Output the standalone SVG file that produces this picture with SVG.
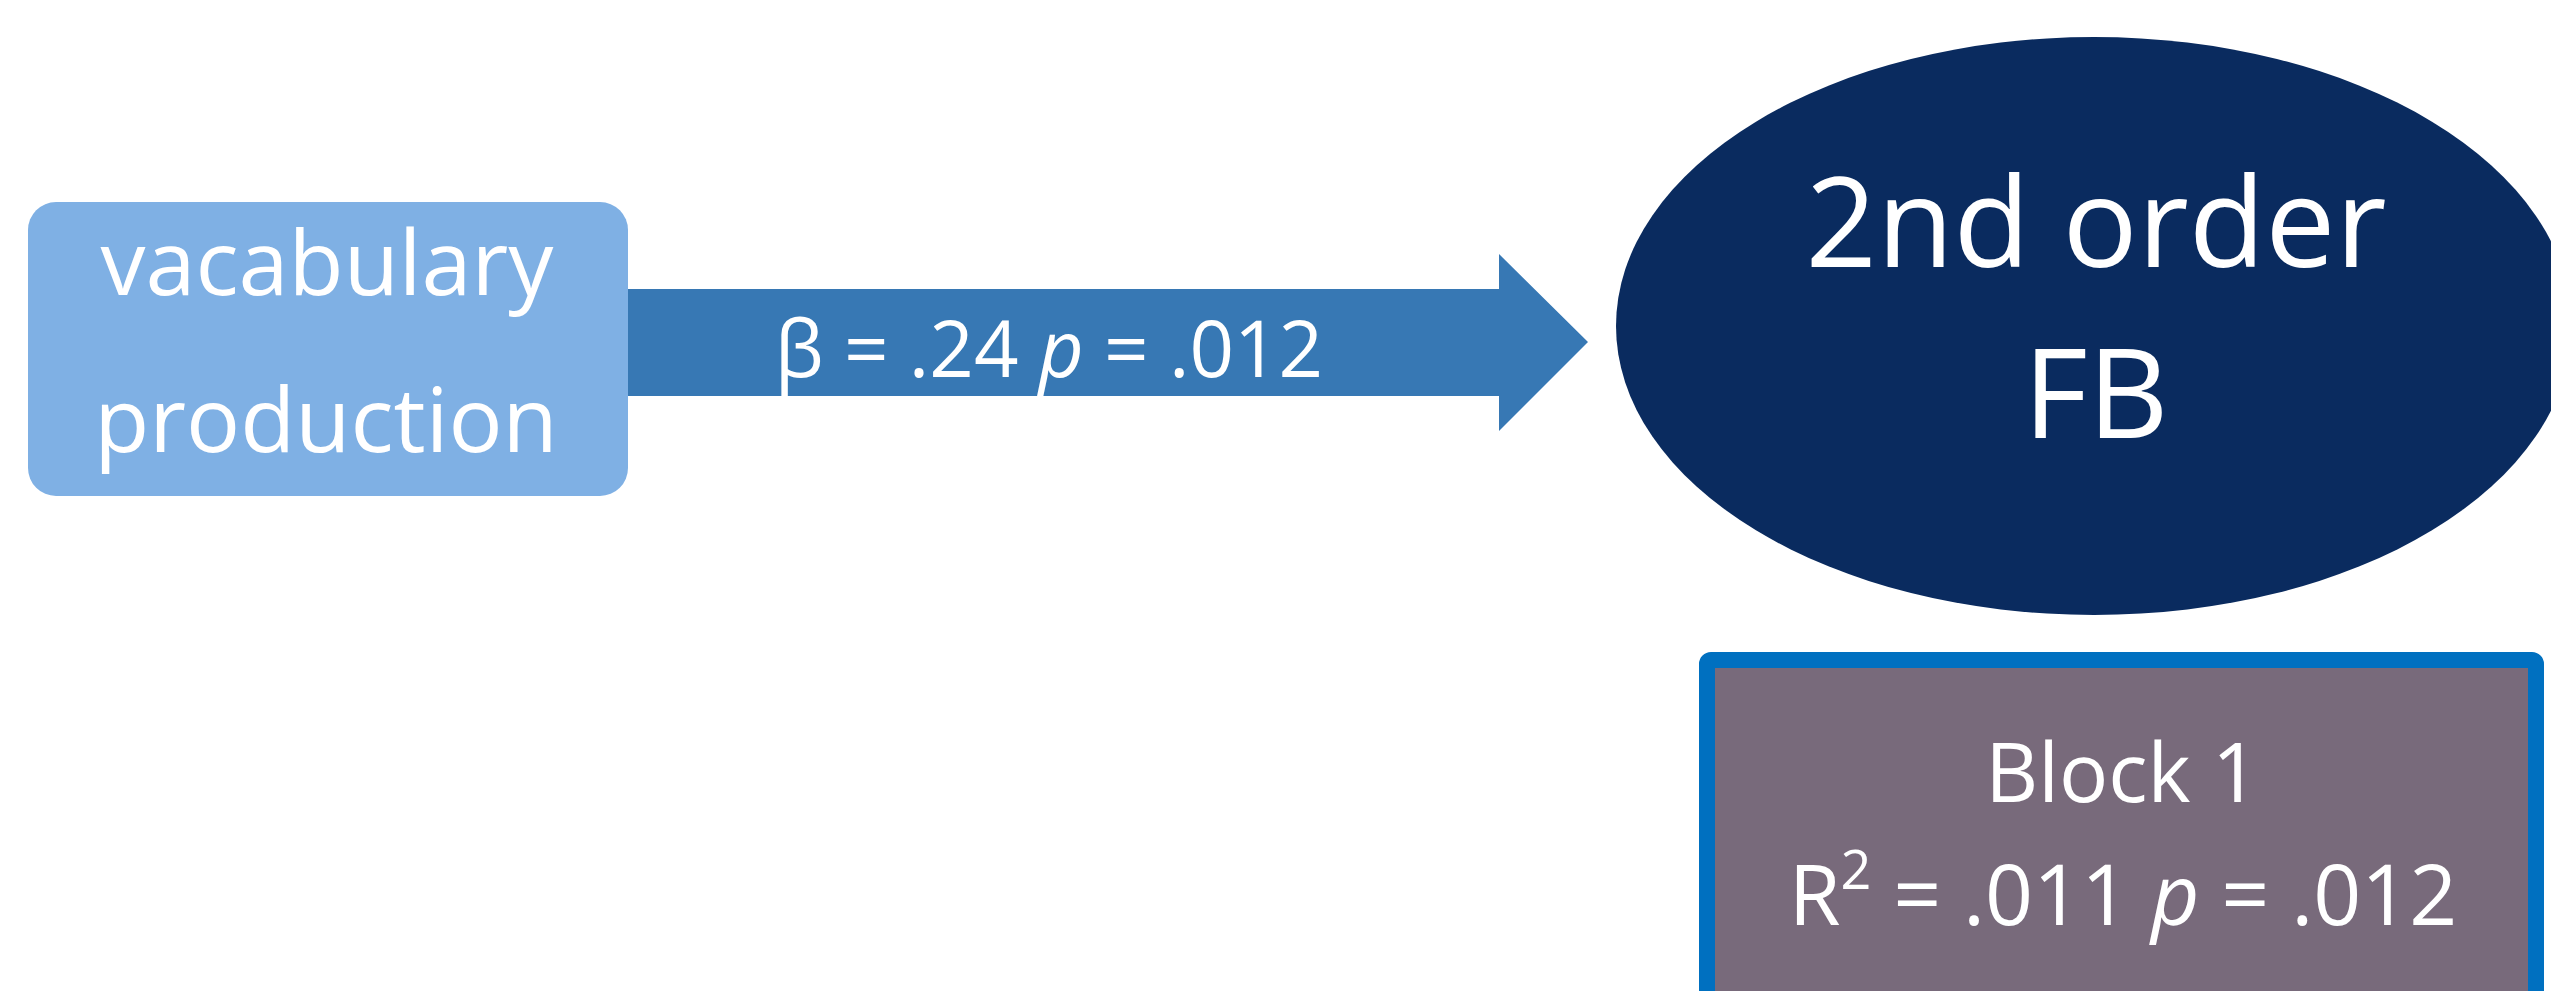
<svg xmlns="http://www.w3.org/2000/svg" width="2551" height="991" viewBox="0 0 2551 991">
<style>
.t{font-family:"Open Sans","Noto Sans","Liberation Sans",sans-serif;fill:#ffffff;text-anchor:middle}
</style>
<rect x="0" y="0" width="2551" height="991" fill="#ffffff"/>
<g id="connectors">
  <polygon points="628,289 1499,289 1499,254 1588,342 1499,431 1499,396 628,396" fill="#3778B4"/>
  <text class="t" x="1049" y="377" font-size="78">β = .24 <tspan font-style="italic">p</tspan> = .012</text>
</g>
<g id="node-vocab">
  <rect x="28" y="202" width="600" height="294" rx="28" ry="28" fill="#7FB0E4"/>
  <text class="t" x="327" y="295" font-size="90">vacabulary</text>
  <text class="t" x="326" y="452" font-size="90">production</text>
</g>
<g id="node-fb">
  <ellipse cx="2094" cy="326" rx="478" ry="289" fill="#0A2B5F"/>
  <text class="t" x="2096" y="267" font-size="125">2nd order</text>
  <text class="t" x="2096" y="438" font-size="125">FB</text>
</g>
<g id="node-block1">
  <rect x="1707" y="660" width="829" height="500" rx="4" ry="4" fill="#786A7B" stroke="#0070C0" stroke-width="16"/>
  <text class="t" x="2122" y="802" font-size="82">Block 1</text>
  <text class="t" x="2123" y="925" font-size="84">R<tspan font-size="54" dy="-36">2</tspan><tspan dy="36"> = .011 </tspan><tspan font-style="italic">p</tspan> = .012</text>
</g>
</svg>
